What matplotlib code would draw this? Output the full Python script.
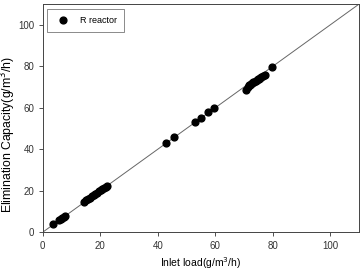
import numpy as np
import matplotlib
matplotlib.use("Agg")
import matplotlib.pyplot as plt

plt.rcParams['font.family'] = ['Liberation Sans', 'DejaVu Sans']

# R reactor: inlet load vs elimination capacity (g/m3/h)
inlet = [3.5, 5.5, 6.2, 6.8, 7.4, 7.9,
         14.5, 15.2, 15.9, 16.5, 17.1, 17.7, 18.3, 18.9, 19.5, 20.1, 20.7, 21.3, 21.9, 22.3,
         43.0, 45.8, 53.0, 55.0, 57.6, 59.7,
         70.8, 71.2, 71.6, 72.0, 72.4, 72.8, 73.2, 73.6, 74.0, 74.4, 74.8, 75.2,
         75.6, 76.0, 76.5, 77.3, 79.8]
elim = [3.8, 5.8, 6.5, 7.0, 7.5, 8.0,
        14.8, 15.4, 16.1, 16.7, 17.3, 17.9, 18.5, 19.1, 19.7, 20.3, 20.9, 21.5, 22.0, 22.5,
        43.2, 46.0, 53.2, 55.3, 57.8, 59.8,
        68.5, 70.0, 70.8, 71.2, 71.5, 71.8, 72.3, 72.6, 73.0, 73.3, 73.8, 74.1,
        74.5, 74.8, 75.4, 76.0, 79.8]

fig = plt.figure(figsize=(3.62, 2.70), dpi=100)
ax = fig.add_axes([0.118, 0.14, 0.874, 0.845])

# 1:1 line
ax.plot([0, 110], [0, 110], color='#666666', lw=0.7, zorder=1)
ax.scatter(inlet, elim, s=24, color='black', zorder=3, label='R reactor')

ax.set_xlim(0, 110)
ax.set_ylim(0, 110)
ax.set_xticks([0, 20, 40, 60, 80, 100])
ax.set_yticks([0, 20, 40, 60, 80, 100])
ax.tick_params(direction='out', length=3, width=0.6, labelsize=7, colors='#333333', pad=3)
for s in ax.spines.values():
    s.set_linewidth(0.7)
    s.set_color('#444444')

ax.set_xlabel('Inlet load(g/m$^3$/h)', fontsize=7.5)
ax.xaxis.set_label_coords(0.5, -0.1)
ax.set_ylabel('Elimination Capacity(g/m$^3$/h)', fontsize=8.8)
ax.yaxis.set_label_coords(-0.077, 0.43)

leg = ax.legend(loc='upper left', fontsize=6.5, frameon=True, fancybox=False,
                edgecolor='#555555', borderpad=0.8, handletextpad=0.8,
                bbox_to_anchor=(0.0, 1.0))
leg.get_frame().set_linewidth(0.6)

fig.savefig('out.png', dpi=100)
